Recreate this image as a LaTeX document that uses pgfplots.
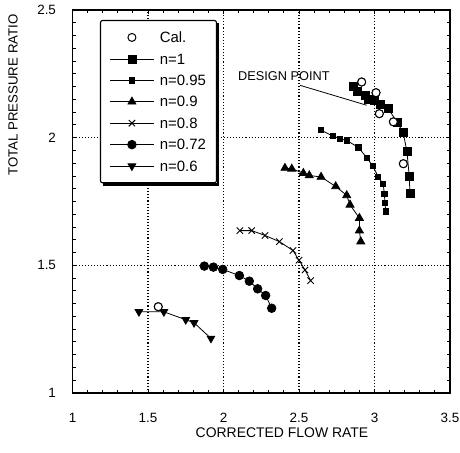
\documentclass[border=0pt]{standalone}
\usepackage{fontspec}
\setmainfont{Liberation Sans}
\usepackage{pgfplots}
\pgfplotsset{compat=1.18}

\begin{document}
\begin{tikzpicture}
\begin{axis}[
  scale only axis, width=377.5bp, height=383bp,
  xmin=1, xmax=3.5, ymin=1, ymax=2.5,
  xtick={1,1.5,2,2.5,3,3.5},
  ytick={1,1.5,2,2.5},
  xticklabels={1,1.5,2,2.5,3,3.5},
  yticklabels={1,1.5,2,2.5},
  minor x tick num=4, minor y tick num=9,
  tick align=inside,
  major tick length=4.5bp, minor tick length=3.5bp,
  every tick/.style={black, line width=0.9pt},
  grid=major,
  major grid style={black, line width=1.1pt, dash pattern=on 1.1pt off 2pt},
  axis line style={line width=1.4pt},
  /pgf/number format/assume math mode=true,
  tick label style={font=\fontsize{13.5}{13.5}\selectfont},
  xticklabel style={yshift=-17bp},
  yticklabel style={xshift=-13bp},
  xlabel={CORRECTED FLOW RATE},
  ylabel={TOTAL PRESSURE RATIO},
  every axis x label/.style={at={(axis description cs:0.555,-0.1044)},anchor=center,font=\fontsize{14}{14}\selectfont},
  every axis y label/.style={at={(axis description cs:-0.1576,0.778)},rotate=90,anchor=center,font=\fontsize{13.3}{13.3}\selectfont},
  legend style={name=leg, at={(axis description cs:0.0728,0.974)}, anchor=north west,
    draw=black, line width=1.1pt, fill=white, rounded corners=2pt,
    font=\fontsize{15}{15}\selectfont,
    inner xsep=9bp, inner ysep=10bp, row sep=8bp, column sep=4bp,
    nodes={inner sep=1.5bp, text depth=0pt}},
  legend cell align=left,
  legend image code/.code={\draw[mark repeat=2,mark phase=2] plot coordinates {(0bp,0bp)(22bp,0bp)(44bp,0bp)};},
]
% Cal. (for legend)
\addplot[only marks, mark=*, mark size=4bp, mark options={fill=white, draw=black, line width=1pt}]
  coordinates {(1.568,1.338)(2.915,2.218)(3.010,2.176)(3.032,2.094)(3.125,2.062)(3.191,1.898)};
\addlegendentry{Cal.}
% n=1
\addplot[black, line width=0.8pt, mark=square*, mark size=4bp, mark options={solid, fill=black, line width=0.8pt}]
  coordinates {(2.86,2.200)(2.89,2.180)(2.94,2.165)(2.96,2.150)(3.00,2.145)(3.04,2.130)(3.09,2.115)(3.15,2.060)(3.19,2.020)(3.215,1.945)(3.23,1.850)(3.235,1.780)};
\addlegendentry{n=1}
% n=0.95
\addplot[black, line width=0.8pt, mark=square*, mark size=2.6bp, mark options={solid, fill=black, line width=0.8pt}]
  coordinates {(2.646,2.029)(2.723,2.007)(2.772,1.996)(2.816,1.989)(2.893,1.962)(2.948,1.922)(2.990,1.888)(3.025,1.846)(3.058,1.818)(3.065,1.780)(3.070,1.745)(3.074,1.711)};
\addlegendentry{n=0.95}
% n=0.9
\addplot[black, line width=0.8pt, mark=triangle*, mark size=4.6bp, mark options={solid, fill=black, line width=0.8pt}]
  coordinates {(2.407,1.881)(2.452,1.878)(2.529,1.861)(2.568,1.852)(2.646,1.846)(2.743,1.809)(2.816,1.774)(2.838,1.737)(2.900,1.685)(2.900,1.636)(2.909,1.593)};
\addlegendentry{n=0.9}
% n=0.8
\addplot[black, line width=0.8pt, mark=x, mark size=4.5bp, mark options={solid, line width=0.9pt}]
  coordinates {(2.109,1.636)(2.187,1.636)(2.275,1.617)(2.370,1.593)(2.460,1.558)(2.500,1.520)(2.540,1.482)(2.577,1.440)};
\addlegendentry{n=0.8}
% n=0.72
\addplot[black, line width=0.8pt, mark=*, mark size=4.3bp, mark options={solid, fill=black, line width=0.8pt}]
  coordinates {(1.873,1.497)(1.933,1.493)(1.995,1.484)(2.105,1.460)(2.171,1.438)(2.226,1.408)(2.279,1.382)(2.319,1.332)};
\addlegendentry{n=0.72}
% n=0.6
\addplot[black, line width=0.8pt, mark=triangle*, mark size=4.4bp, mark options={solid, fill=black, rotate=180, line width=0.8pt}]
  coordinates {(1.440,1.318)(1.605,1.318)(1.750,1.287)(1.805,1.275)(1.917,1.214)};
\addlegendentry{n=0.6}
% Cal. on top
\addplot[forget plot, only marks, mark=*, mark size=4bp, mark options={fill=white, draw=black, line width=1pt}]
  coordinates {(1.568,1.338)(2.915,2.218)(3.010,2.176)(3.032,2.094)(3.125,2.062)(3.191,1.898)};
\node[font=\fontsize{12.8}{12.8}\selectfont] at (axis cs:2.40,2.242) {DESIGN POINT};
\draw[line width=0.8pt] (axis cs:2.507,2.205) -- (axis cs:2.948,2.127);
\end{axis}
% legend shadow strips
\fill[black] ([yshift=-3bp]leg.north east) rectangle ([xshift=2.2bp,yshift=-2.2bp]leg.south east);
\fill[black] ([xshift=3bp]leg.south west) rectangle ([xshift=2.2bp,yshift=-2.2bp]leg.south east);
\pgfresetboundingbox
\path[use as bounding box] (-72.5bp,-60bp) rectangle (387.5bp,393bp);
\end{tikzpicture}
\end{document}
